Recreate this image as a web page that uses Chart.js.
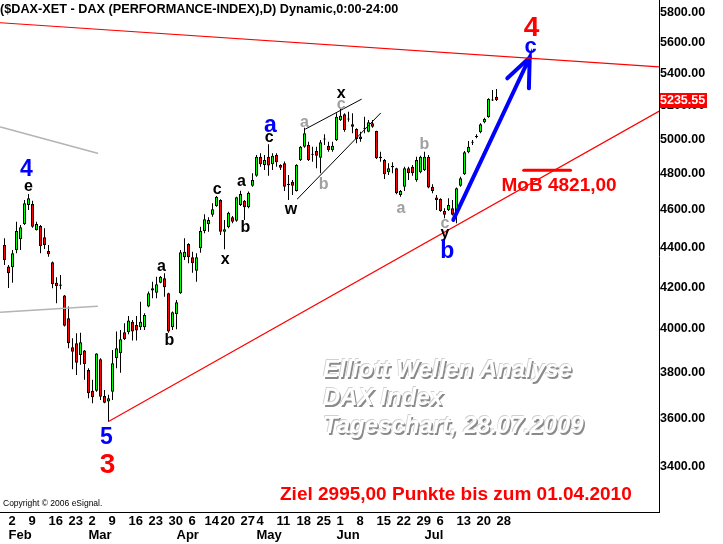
<!DOCTYPE html>
<html>
<head>
<meta charset="utf-8">
<title>DAX Elliott</title>
<script src="https://cdn.jsdelivr.net/npm/chart.js@4.4.1/dist/chart.umd.min.js"></script>
<style>
  html, body { margin: 0; padding: 0; background: #fff; }
  canvas { display: block; }
</style>
</head>
<body>
<canvas id="daxChart" width="723" height="544"></canvas>
<script>
// daily candles 02.02.2009 - 28.07.2009
const opens = [4415,4304,4300,4389,4445,4525,4628,4633,4493,4514,4455,4384,4326,4223,4214,4160,4050,3914,3933,3879,
  3899,3811,3719,3719,3859,3696,3672,3715,3865,3887,3984,3984,4034,4018,4008,4008,4106,4196,4174,4223,4245,4171,
  4008,4071,4171,4352,4420,4352,4283,4398,4488,4525,4574,4622,4655,4484,4508,4561,4543,4628,4651,4615,
  4734,4790,4898,4851,4898,4855,4908,4851,4860,4744,4756,4704,4879,4956,4966,4915,4931,4892,4998,4962,
  4937,4995,5114,5149,5117,5088,5060,5015,5062,5044,5094,5048,4898,4879,4809,4838,4832,4682,4728,4832,4841,4766,
  4809,4822,4896,4728,4668,4660,4595,4600,4610,4577,4734,4798,4924,4979,5012,5041,5100,5131,5233,5256];
const highs = [4450,4312,4389,4537,4520,4655,4688,4651,4537,4520,4502,4415,4330,4250,4262,4162,4106,3956,3979,3982,
  3902,3819,3767,3887,3864,3722,3701,3902,3987,3995,4026,4061,4042,4061,4130,4074,4180,4228,4253,4257,4270,4174,
  4082,4138,4389,4450,4424,4380,4372,4511,4577,4561,4637,4677,4659,4547,4591,4568,4673,4706,4655,4701,
  4803,4908,4918,4908,4970,4918,4918,4855,4870,4794,4766,4855,4960,5068,4985,4956,4956,4995,5029,4985,
  4985,5155,5181,5155,5164,5155,5065,5044,5134,5114,5114,5050,4927,4885,4860,4866,4835,4710,4841,4841,4851,4898,
  4904,4927,4908,4742,4682,4664,4610,4664,4655,4723,4784,4931,4989,4995,5029,5094,5128,5246,5298,5304];
const lows = [4312,4197,4223,4372,4389,4520,4600,4505,4490,4372,4394,4354,4196,4122,4191,4011,3910,3814,3789,3834,
  3767,3686,3665,3715,3679,3665,3587,3679,3819,3799,3948,3975,3945,3945,3995,3995,4103,4147,4147,4220,4154,3982,
  3995,3998,4168,4338,4321,4273,4228,4375,4476,4484,4564,4618,4467,4393,4502,4529,4537,4622,4547,4610,
  4728,4784,4841,4822,4790,4822,4841,4822,4704,4655,4682,4701,4873,4950,4873,4869,4832,4803,4966,4927,
  4927,4989,5108,5044,5104,5035,4976,4985,5035,5041,5068,4885,4869,4771,4794,4803,4686,4673,4704,4766,4790,4756,
  4803,4816,4719,4692,4600,4591,4556,4595,4570,4529,4728,4794,4918,4966,5005,5035,5094,5128,5230,5230];
const closes = [4338,4270,4372,4488,4508,4637,4664,4510,4525,4410,4415,4367,4215,4207,4208,4014,3933,3894,3844,3937,
  3838,3708,3691,3886,3693,3667,3686,3841,3910,3951,3951,4039,3987,3992,4034,4066,4171,4184,4216,4253,4201,3987,
  4079,4127,4377,4380,4352,4321,4352,4488,4550,4547,4604,4673,4484,4497,4586,4537,4670,4688,4615,4695,
  4766,4898,4855,4879,4847,4904,4866,4835,4728,4738,4734,4851,4956,5035,4879,4909,4904,4982,5004,4937,
  4962,5134,5140,5054,5123,5074,5001,5001,5067,5100,5074,4889,4889,4798,4832,4844,4692,4704,4832,4803,4803,4879,
  4898,4898,4723,4704,4655,4595,4574,4628,4574,4719,4775,4924,4956,4985,5018,5088,5120,5242,5239,5235.55];

// x axis labels: candle index of each week start / month start
const weekTicks = [0,5,10,15,20,25,30,35,40,45,49,53,58,62,67,72,77,82,87,92,97,102,107,112,117,122];
const weekLabels = ['2','9','16','23','2','9','16','23','30','6','14','20','27','4','11','18','25','1','8','15','22','29','6','13','20','28'];
const monthTicks = [0,20,42,62,82,104];
const monthLabels = ['Feb','Mar','Apr','May','Jun','Jul'];
const priceTicks = [3400,3600,3800,4000,4200,4400,4600,4800,5000,5200,5400,5600,5800];

// drawn lines as [candle index, price]
const upperLine = [[-1, 5734], [164, 5443]];
const lowerLine = [[26, 3587], [164, 5172]];
const greyTop = [[-1, 5072], [23.25, 4918]];
const greyBottom = [[-1, 4079], [23.2, 4108]];
const wedgeLow = [[73.2, 4660], [94, 5155]];
const wedgeHigh = [[75.25, 5060], [89.2, 5240]];
const arrowShaft = [[112.2, 4547], [131.3, 5505], [131.1, 5308]];
const arrowBarb = [[125.7, 5371], [131.3, 5505]];
const mobLevel = [[129.8, 4821], [141.5, 4821]];

// wave counts: text, candle index, price, colour, size
const waveLabels = [
  ['4', 5.5, 4822, 'blue', 23], ['e', 6, 4728, 'black', 16],
  ['5', 25.5, 3518, 'blue', 23], ['3', 25.75, 3408, 'red', 28],
  ['a', 39.25, 4302, 'black', 16], ['b', 41.25, 3943, 'black', 16],
  ['c', 53.2, 4710, 'black', 16], ['x', 55.2, 4338, 'black', 16],
  ['a', 59.25, 4756, 'black', 16], ['b', 60.25, 4504, 'black', 16],
  ['a', 66.5, 5078, 'blue', 23], ['c', 66.2, 5007, 'black', 16],
  ['w', 71.6, 4604, 'black', 16], ['a', 75, 5096, 'grey', 16],
  ['b', 79.8, 4742, 'grey', 16], ['x', 84.2, 5273, 'black', 16],
  ['c', 84.2, 5208, 'grey', 16], ['a', 99.1, 4606, 'grey', 16],
  ['b', 105, 4966, 'grey', 16], ['c', 110.1, 4529, 'grey', 16],
  ['y', 110.1, 4475, 'black', 16], ['b', 110.7, 4382, 'blue', 23],
  ['c', 131.5, 5571, 'blue', 22], ['4', 131.75, 5699, 'red', 28]
];

const FONT = '"Liberation Sans", Arial, sans-serif';
const colours = { blue: '#0000ff', black: '#000000', grey: '#a0a0a0', red: '#ff0000' };
const upColour = '#00ff00';
const downColour = '#ff0000';

const idx = closes.map((c, i) => i);

function lineSet(points, colour, width) {
  return {
    type: 'line',
    data: points.map(p => ({ x: p[0], y: p[1] })),
    borderColor: colour,
    borderWidth: width,
    borderCapStyle: 'round',
    pointRadius: 0,
    tension: 0,
    fill: false,
    order: 0
  };
}

// scales should not reserve room for half labels at the ends
function noPadding(s) {
  s.paddingTop = 0; s.paddingBottom = 0; s.paddingLeft = 0; s.paddingRight = 0;
}

const annotate = {
  id: 'annotate',
  afterDraw(chart) {
    const { ctx, chartArea } = chart;
    const x = chart.scales.x, y = chart.scales.y;
    ctx.save();

    // header
    ctx.fillStyle = '#000';
    ctx.font = 'bold 12.7px ' + FONT;
    ctx.textAlign = 'left';
    ctx.textBaseline = 'middle';
    ctx.fillText('($DAX-XET - DAX (PERFORMANCE-INDEX),D) Dynamic,0:00-24:00', 0, 9);

    // wave labels
    ctx.textAlign = 'center';
    waveLabels.forEach(l => {
      ctx.fillStyle = colours[l[3]];
      ctx.font = 'bold ' + l[4] + 'px ' + FONT;
      ctx.fillText(l[0], x.getPixelForValue(l[1]), y.getPixelForValue(l[2]));
    });

    // MoB target
    ctx.textAlign = 'left';
    ctx.fillStyle = '#ff0000';
    ctx.font = 'bold 19px ' + FONT;
    ctx.fillText('MoB 4821,00', x.getPixelForValue(124.25), y.getPixelForValue(4732));

    // watermark
    const wm = ['Elliott Wellen Analyse', 'DAX Index', 'Tageschart, 28.07.2009'];
    ctx.font = 'italic bold 24px ' + FONT;
    ctx.textBaseline = 'alphabetic';
    wm.forEach((t, k) => {
      const tx = 323, ty = 377 + k * 28;
      ctx.fillStyle = '#8a8a8a';
      ctx.fillText(t, tx + 1.5, ty + 1.5);
      ctx.fillStyle = '#d0d0d0';
      ctx.fillText(t, tx - 0.7, ty - 0.7);
      ctx.fillStyle = '#ffffff';
      ctx.fillText(t, tx, ty);
    });

    // footer
    ctx.textBaseline = 'middle';
    ctx.fillStyle = '#ff0000';
    ctx.font = 'bold 19px ' + FONT;
    ctx.fillText('Ziel 2995,00 Punkte bis zum 01.04.2010', 280, 495);
    ctx.fillStyle = '#000';
    ctx.font = '8.5px ' + FONT;
    ctx.fillText('Copyright \u00a9 2006 eSignal.', 3, 504);

    // last price box
    const last = closes[closes.length - 1];
    const py = Math.round(y.getPixelForValue(last));
    ctx.fillStyle = '#ff0000';
    ctx.fillRect(chartArea.right + 1, py - 7, 47, 15);
    ctx.fillStyle = '#fff';
    ctx.font = 'bold 12.5px ' + FONT;
    ctx.fillText(last.toFixed(2), chartArea.right + 1, py + 0.5);

    ctx.restore();
  }
};

const ctx = document.getElementById('daxChart').getContext('2d');
const daxChart = new Chart(ctx, {
  type: 'bar',
  data: {
    datasets: [
      {
        label: 'wicks',
        data: idx.map(i => ({ x: i, y: [lows[i], highs[i]] })),
        backgroundColor: '#000',
        barThickness: 1,
        grouped: false,
        inflateAmount: 0,
        order: 2
      },
      {
        label: 'bodies',
        data: idx.map(i => ({ x: i, y: [opens[i], closes[i]] })),
        backgroundColor: idx.map(i => closes[i] >= opens[i] ? upColour : downColour),
        borderColor: '#000',
        borderWidth: 1,
        borderSkipped: false,
        barThickness: 3,
        grouped: false,
        inflateAmount: 0,
        order: 1
      },
      lineSet(upperLine, '#ff0000', 1.2),
      lineSet(lowerLine, '#ff0000', 1.2),
      lineSet(greyTop, '#b4b4b4', 1.5),
      lineSet(greyBottom, '#b4b4b4', 1.5),
      lineSet(wedgeLow, '#000', 1),
      lineSet(wedgeHigh, '#000', 1),
      lineSet(arrowShaft, '#0000ff', 4),
      lineSet(arrowBarb, '#0000ff', 4),
      lineSet(mobLevel, '#ff0000', 3)
    ]
  },
  options: {
    responsive: false,
    animation: false,
    events: [],
    layout: { padding: 0 },
    plugins: { legend: { display: false }, tooltip: { enabled: false } },
    scales: {
      x: {
        type: 'linear', display: false, offset: false, bounds: 'data',
        min: -1.125, max: 163.625
      },
      xd: {
        type: 'linear', position: 'bottom', offset: false, bounds: 'data',
        min: -2.125, max: 162.625,
        grid: { display: false, drawTicks: false },
        border: { display: true, color: '#000', width: 1 },
        afterBuildTicks: s => { s.ticks = weekTicks.map(v => ({ value: v })); },
        afterFit: s => { s.height = 16; noPadding(s); },
        ticks: {
          autoSkip: false, maxRotation: 0, align: 'start', padding: 2, color: '#000',
          font: { family: FONT, size: 13, weight: 'bold' },
          callback: (v, i) => weekLabels[i]
        }
      },
      xm: {
        type: 'linear', position: 'bottom', weight: 1, offset: false, bounds: 'data',
        min: -2.125, max: 162.625,
        grid: { display: false, drawTicks: false },
        border: { display: false },
        afterBuildTicks: s => { s.ticks = monthTicks.map(v => ({ value: v })); },
        afterFit: s => { s.height = 16; noPadding(s); },
        ticks: {
          autoSkip: false, maxRotation: 0, align: 'start', padding: 0, color: '#000',
          font: { family: FONT, size: 13, weight: 'bold' },
          callback: (v, i) => monthLabels[i]
        }
      },
      y: {
        type: 'logarithmic', position: 'right', bounds: 'data',
        min: 3224.6, max: 5889.4,
        grid: { display: false, drawTicks: false },
        border: { display: true, color: '#000', width: 1 },
        afterBuildTicks: s => { s.ticks = priceTicks.map(v => ({ value: v })); },
        afterFit: s => { s.width = 64; noPadding(s); },
        ticks: {
          padding: 1, color: '#000',
          font: { family: FONT, size: 12.5, weight: 'bold' },
          callback: v => Number(v).toFixed(2)
        }
      }
    }
  },
  plugins: [annotate]
});
</script>
</body>
</html>
